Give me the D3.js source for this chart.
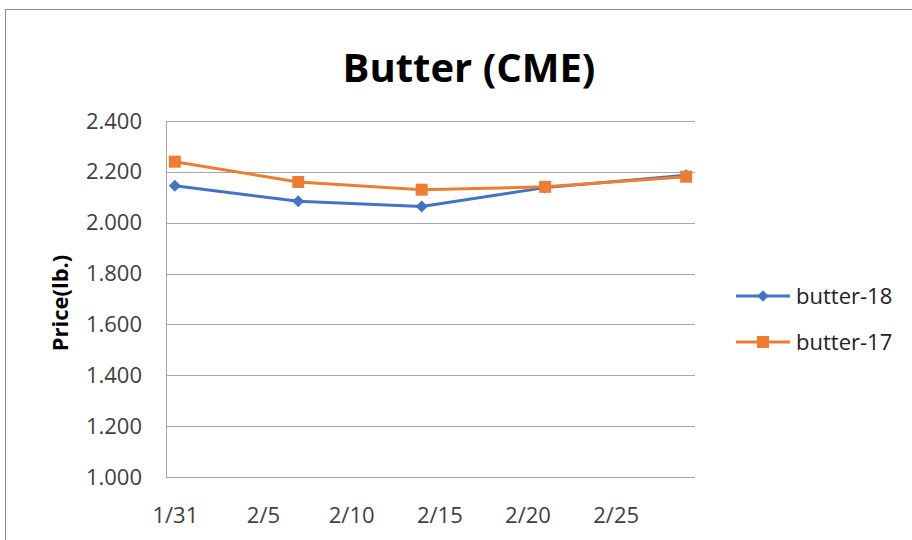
<!DOCTYPE html>
<html>
<head>
<meta charset="utf-8">
<script src="https://cdn.jsdelivr.net/npm/d3@7/dist/d3.min.js"></script>
<style>
html,body{margin:0;padding:0;background:#fff;}
svg{display:block;}
text{font-family:"Open Sans","Noto Sans",sans-serif;}
</style>
</head>
<body>
<svg id="chart" width="912" height="540"></svg>
<script>
const dates = ["2018-01-31","2018-02-07","2018-02-14","2018-02-21","2018-03-01"];
const butter18 = [2.145, 2.084, 2.064, 2.138, 2.187];
const butter17 = [2.240, 2.160, 2.130, 2.141, 2.181];
const yTicks = [1.0, 1.2, 1.4, 1.6, 1.8, 2.0, 2.2, 2.4];
const xTickLabels = ["2018-01-31","2018-02-05","2018-02-10","2018-02-15","2018-02-20","2018-02-25"];
const seriesNames = ["butter-18","butter-17"];
const colors = ["#4472C4","#ED7D31"];

const parse = d3.utcParse("%Y-%m-%d");
const svg = d3.select("#chart");

// chart border
svg.append("rect").attr("x",5.5).attr("y",9.5).attr("width",920).attr("height",540)
  .attr("fill","none").attr("stroke","#8c8c8c").attr("stroke-width",1);

const pLeft=166, pRight=695, pTop=121, pBottom=477;
const x = d3.scaleUtc()
  .domain([d3.utcHour.offset(parse("2018-01-31"),-12), d3.utcHour.offset(parse("2018-03-01"),12)])
  .range([pLeft,pRight]);
const y = d3.scaleLinear().domain([1.0,2.4]).range([pBottom,pTop]);

// gridlines
svg.append("g").selectAll("line").data(yTicks.filter(v=>v>1.0)).join("line")
  .attr("x1",pLeft).attr("x2",pRight)
  .attr("y1",d=>Math.round(y(d))+0.5).attr("y2",d=>Math.round(y(d))+0.5)
  .attr("stroke","#a6a6a6").attr("stroke-width",1);

// axes lines
svg.append("line").attr("x1",pLeft).attr("x2",pRight).attr("y1",pBottom+0.5).attr("y2",pBottom+0.5)
  .attr("stroke","#a6a6a6");
svg.append("line").attr("x1",pLeft+0.5).attr("x2",pLeft+0.5).attr("y1",pTop).attr("y2",pBottom)
  .attr("stroke","#a6a6a6");

// y tick labels
const yAxis = d3.axisLeft(y).tickValues(yTicks).tickFormat(d3.format(".3f")).tickSize(0).tickPadding(24);
const gy = svg.append("g").attr("transform",`translate(${pLeft},0)`).call(yAxis);
gy.select(".domain").remove();
gy.selectAll("text").attr("font-size",22).attr("fill","#404040")
  .attr("font-family","'Open Sans',sans-serif");

// x tick labels
const xAxis = d3.axisBottom(x).tickValues(xTickLabels.map(parse)).tickFormat(d3.utcFormat("%-m/%-d")).tickSize(0).tickPadding(30);
const gx = svg.append("g").attr("transform",`translate(0,${pBottom})`).call(xAxis);
gx.select(".domain").remove();
gx.selectAll("text").attr("font-size",22).attr("fill","#404040")
  .attr("font-family","'Open Sans',sans-serif");

// title
svg.append("text").attr("x",469).attr("y",82).attr("text-anchor","middle")
  .attr("font-size",40).attr("font-weight","bold").attr("fill","#000").text("Butter (CME)");

// y label
svg.append("text").attr("transform","translate(68,303) rotate(-90)").attr("text-anchor","middle")
  .attr("font-size",22).attr("font-weight","bold").attr("fill","#000").text("Price(lb.)");

const allSeries = [butter18, butter17];
const line = d3.line().x((d,i)=>x(parse(dates[i]))).y(d=>y(d));

allSeries.forEach((vals,si)=>{
  svg.append("path").datum(vals).attr("d",line).attr("fill","none")
    .attr("stroke",colors[si]).attr("stroke-width",3).attr("stroke-linejoin","round");
});
allSeries.forEach((vals,si)=>{
  const g = svg.append("g");
  if(si===0){
    g.selectAll("path").data(vals).join("path")
      .attr("d",d3.symbol().type(d3.symbolSquare).size(72)())
      .attr("transform",(d,i)=>`translate(${x(parse(dates[i]))},${y(d)}) rotate(45)`)
      .attr("fill",colors[si]);
  } else {
    g.selectAll("rect").data(vals).join("rect")
      .attr("x",(d,i)=>x(parse(dates[i]))-6).attr("y",d=>y(d)-6)
      .attr("width",12).attr("height",12).attr("fill",colors[si]);
  }
});

// legend
const legY = [296, 342];
seriesNames.forEach((n,i)=>{
  const g = svg.append("g");
  g.append("line").attr("x1",736).attr("x2",790).attr("y1",legY[i]).attr("y2",legY[i])
    .attr("stroke",colors[i]).attr("stroke-width",3);
  if(i===0){
    g.append("path").attr("d",d3.symbol().type(d3.symbolSquare).size(64)())
      .attr("transform",`translate(763,${legY[i]}) rotate(45)`).attr("fill",colors[i]);
  } else {
    g.append("rect").attr("x",757).attr("y",legY[i]-6).attr("width",12).attr("height",12).attr("fill",colors[i]);
  }
  g.append("text").attr("x",796).attr("y",legY[i]).attr("dy","0.35em")
    .attr("font-size",22).attr("fill","#222").text(n);
});
</script>
</body>
</html>
